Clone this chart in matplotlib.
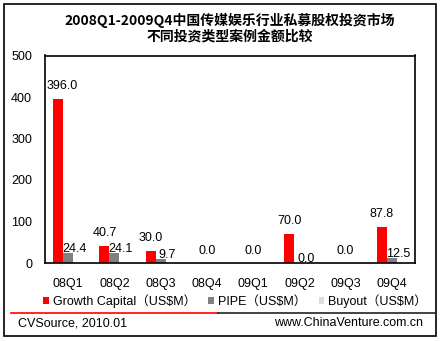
import matplotlib
matplotlib.use("Agg")
import matplotlib.pyplot as plt
import numpy as np
from matplotlib.lines import Line2D
from matplotlib.patches import Rectangle

plt.rcParams['font.family'] = ['Liberation Sans', 'Noto Sans CJK SC', 'DejaVu Sans']

quarters = ['08Q1', '08Q2', '08Q3', '08Q4', '09Q1', '09Q2', '09Q3', '09Q4']
growth = [396.0, 40.7, 30.0, 0.0, 0.0, 70.0, 0.0, 87.8]
pipe = [24.4, 24.1, 9.7, 0.0, 0.0, 0.0, 0.0, 12.5]
buyout = [0.0, 0.0, 0.0, 0.0, 0.0, 0.0, 0.0, 0.0]
series_names = ['Growth Capital（US$M）', 'PIPE（US$M）', 'Buyout（US$M）']
colours = ['#ff0000', '#808080', '#dcdcdc']
title = '2008Q1-2009Q4中国传媒娱乐行业私募股权投资市场\n不同投资类型案例金额比较'

W, H = 440, 341
fig = plt.figure(figsize=(W / 100, H / 100), dpi=100)
fig.patch.set_facecolor('white')

def fx(px):
    return px / W

def fy(py):
    return 1 - py / H

PT = 0.72  # points per pixel at dpi 100

ax = fig.add_axes([fx(45), fy(263), fx(415) - fx(45), fy(55.5) - fy(263)])
x = np.arange(len(quarters))
w = 0.215
bars = []
for i, vals in enumerate([growth, pipe, buyout]):
    bars.append(ax.bar(x + (i - 1) * w, vals, w, color=colours[i], label=series_names[i]))

ax.set_xlim(-0.5, len(quarters) - 0.5)
ax.set_ylim(0, 500)
ax.set_yticks(range(0, 501, 100))
ax.set_xticks(x)
ax.set_xticklabels(quarters)
ax.tick_params(axis='both', length=0, labelsize=9)
ax.tick_params(axis='y', pad=13 * PT)
ax.tick_params(axis='x', pad=15 * PT)
for s in ax.spines.values():
    s.set_color('black')
    s.set_linewidth(1.2)

# value labels; groups with nothing get a single label in the middle
for i in range(len(quarters)):
    if growth[i] == 0 and pipe[i] == 0:
        ax.annotate(f'{0:.1f}', (x[i], 0), xytext=(0, 12 * PT), textcoords='offset points',
                    ha='center', va='center', fontsize=9)
        continue
    dx = 4 if growth[i] > 100 else 0
    ax.annotate(f'{growth[i]:.1f}', (x[i] - w, growth[i]), xytext=(dx * PT, 13 * PT),
                textcoords='offset points', ha='center', va='center', fontsize=9)
    ax.annotate(f'{pipe[i]:.1f}', (x[i], pipe[i]), xytext=(6.5 * PT, 4 * PT),
                textcoords='offset points', ha='center', va='center', fontsize=9)

fig.text(fx(230), fy(28), title, ha='center', va='center', fontsize=10, fontweight='bold',
         family=['Noto Sans CJK SC', 'DejaVu Sans'], linespacing=1.1)

fig.legend(handles=bars, labels=series_names, loc='center', bbox_to_anchor=(fx(235), fy(301)),
           ncol=3, frameon=False, fontsize=9, handlelength=0.45, handleheight=0.45,
           handletextpad=0.3, columnspacing=1.0)

fig.add_artist(Line2D([fx(11), fx(218)], [fy(313), fy(313)], color='#ff0000', lw=1.2))
fig.add_artist(Line2D([fx(218), fx(435)], [fy(313), fy(313)], color='#222222', lw=1.2))
fig.text(fx(18), fy(323), 'CVSource, 2010.01', ha='left', va='center', fontsize=9)
fig.text(fx(423), fy(323), 'www.ChinaVenture.com.cn', ha='right', va='center', fontsize=9)

fig.add_artist(Rectangle((fx(4), fy(336)), fx(432), 332 / H, fill=False, ec='black', lw=1.2))

fig.savefig('out.png', dpi=100)
